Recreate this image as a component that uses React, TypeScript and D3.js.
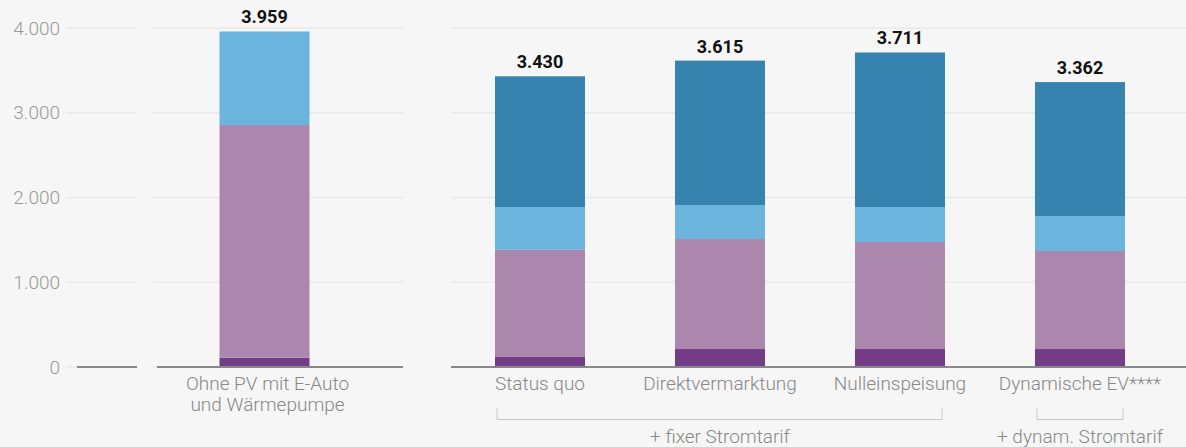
import React from "react";
import * as d3 from "d3";

const categories = [
  "Ohne PV mit E-Auto|und Wärmepumpe",
  "Status quo",
  "Direktvermarktung",
  "Nulleinspeisung",
  "Dynamische EV****",
];
const seriesKeys = ["s1", "s2", "s3", "s4"];
const darkPurple = [110, 118, 212, 212, 212];
const lightPurple = [2745, 1266, 1298, 1263, 1157];
const lightBlue = [1104, 504, 401, 413, 413];
const darkBlue = [0, 1542, 1704, 1823, 1580];
const totals = [3959, 3430, 3615, 3711, 3362];
const yTicks = [0, 1000, 2000, 3000, 4000];
const groupLabels = ["+ fixer Stromtarif", "+ dynam. Stromtarif"];

const colors = ["#723c86", "#ab86ad", "#6bb4de", "#3683b0"];

const W = 1186;
const H = 447;

const de = d3.formatLocale({ decimal: ",", thousands: ".", grouping: [3], currency: ["", " €"] });
const fmt = de.format(",.0f");

export default function App() {
  const rows = categories.map((c, i) => ({
    cat: c,
    s1: darkPurple[i],
    s2: lightPurple[i],
    s3: lightBlue[i],
    s4: darkBlue[i],
  }));
  const stacked = d3.stack<any>().keys(seriesKeys)(rows);

  const y = d3.scaleLinear().domain([0, 4000]).range([367, 28]);
  const xLeft = d3
    .scaleBand<string>()
    .domain([categories[0]])
    .range([174.5, 354.5])
    .paddingInner(0.5)
    .paddingOuter(0.25);
  const xRight = d3
    .scaleBand<string>()
    .domain(categories.slice(1))
    .range([450, 1170])
    .paddingInner(0.5)
    .paddingOuter(0.25);
  const xOf = (c: string) => (c === categories[0] ? xLeft(c)! : xRight(c)!);
  const bw = xRight.bandwidth();

  const gridSegs = [
    [66, 137],
    [153, 403],
    [451, 1186],
  ];
  const baseSegs = [
    [77, 137],
    [157, 403],
    [451, 1186],
  ];

  const font = "Roboto, 'Open Sans', sans-serif";
  const lblSize = 19;

  const b1L = xRight(categories[1])! + 2;
  const b1R = xRight(categories[3])! + bw - 3;
  const b2L = xRight(categories[4])! + 2;
  const b2R = xRight(categories[4])! + bw - 2;

  return (
    <svg
      width={W}
      height={H}
      style={{ position: "absolute", left: 0, top: 0, fontFamily: font }}
    >
      <rect x={0} y={0} width={W} height={H} fill="#f6f6f6" />
      {/* gridlines */}
      {yTicks
        .filter((t) => t !== 0)
        .map((t) =>
          gridSegs.map((s, j) => (
            <line
              key={t + "-" + j}
              x1={s[0]}
              x2={s[1]}
              y1={y(t)}
              y2={y(t)}
              stroke="#e9e9e9"
              strokeWidth={1.5}
            />
          ))
        )}
      {gridSegs.map((s, j) => (
        <line key={"g0" + j} x1={s[0]} x2={s[1]} y1={y(0)} y2={y(0)} stroke="#e9e9e9" strokeWidth={1.5} />
      ))}
      {/* y tick labels */}
      {yTicks.map((t) => (
        <text
          key={"yt" + t}
          x={60}
          y={y(t) + 6.5}
          textAnchor="end"
          fontSize={19}
          fontWeight={300}
          fill="#999"
        >
          {fmt(t)}
        </text>
      ))}
      {/* bars */}
      {stacked.map((layer, li) => (
        <g key={"l" + li} fill={colors[li]}>
          {layer.map((d, i) =>
            d[1] - d[0] > 0 ? (
              <rect
                key={i}
                x={xOf(categories[i])}
                width={i === 0 ? xLeft.bandwidth() : bw}
                y={y(d[1])}
                height={y(d[0]) - y(d[1])}
              />
            ) : null
          )}
        </g>
      ))}
      {/* baseline */}
      {baseSegs.map((s, j) => (
        <line key={"b" + j} x1={s[0]} x2={s[1]} y1={y(0)} y2={y(0)} stroke="#888" strokeWidth={2} />
      ))}
      {/* totals */}
      {totals.map((t, i) => (
        <text
          key={"tot" + i}
          x={xOf(categories[i]) + bw / 2}
          y={y(t) - 8}
          textAnchor="middle"
          fontSize={18}
          fontWeight={700}
          fill="#111"
        >
          {fmt(t)}
        </text>
      ))}
      {/* category labels */}
      {categories.map((c, i) =>
        c.split("|").map((line, k) => (
          <text
            key={"c" + i + k}
            x={xOf(c) + bw / 2 + (i === 0 ? 3 : 0)}
            y={390 + k * 21}
            textAnchor="middle"
            fontSize={lblSize}
            fontWeight={300}
            fill="#888"
          >
            {line}
          </text>
        ))
      )}
      {/* brackets */}
      <path
        d={`M${b1L},408V419.5H${b1R}V408`}
        fill="none"
        stroke="#c8c8c8"
        strokeWidth={1}
      />
      <path
        d={`M${b2L},408V419.5H${b2R}V408`}
        fill="none"
        stroke="#c8c8c8"
        strokeWidth={1}
      />
      <text x={xRight(categories[2])! + bw / 2} y={443} textAnchor="middle" fontSize={lblSize} fontWeight={300} fill="#888">
        {groupLabels[0]}
      </text>
      <text x={xRight(categories[4])! + bw / 2} y={443} textAnchor="middle" fontSize={lblSize} fontWeight={300} fill="#888">
        {groupLabels[1]}
      </text>
    </svg>
  );
}
